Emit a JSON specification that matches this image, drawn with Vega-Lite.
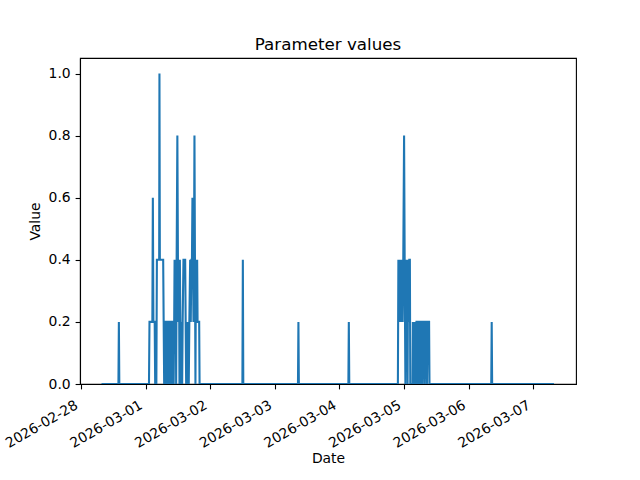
{
  "$schema": "https://vega.github.io/schema/vega-lite/v6.json",
  "width": 496,
  "height": 326,
  "autosize": {"type": "none"},
  "padding": {"left": 80, "top": 58, "right": 64, "bottom": 96},
  "background": "white",
  "title": {"text": "Parameter values", "font": "DejaVu Sans", "fontSize": 16.7, "fontWeight": "normal", "color": "black", "anchor": "middle", "baseline": "alphabetic", "offset": -9},
  "config": {
    "font": "DejaVu Sans",
    "view": {"stroke": "black", "strokeWidth": 1.1},
    "axis": {
      "grid": false,
      "domainColor": "black", "domainWidth": 1.1,
      "tickColor": "black", "tickWidth": 1.1, "tickSize": 4.9,
      "labelFont": "DejaVu Sans", "labelFontSize": 13.9, "labelColor": "black", "labelPadding": 4.9,
      "titleFont": "DejaVu Sans", "titleFontSize": 13.9, "titleFontWeight": "normal", "titleColor": "black",
      "labelFlush": false, "labelOverlap": false, "labelBound": false
    }
  },
  "data": {"values": [
    {"t": "2026-02-28T07:39", "v": 0},
    {"t": "2026-02-28T13:56", "v": 0},
    {"t": "2026-02-28T14:06", "v": 0.2},
    {"t": "2026-02-28T14:16", "v": 0},
    {"t": "2026-03-01T01:17", "v": 0},
    {"t": "2026-03-01T01:28", "v": 0.2},
    {"t": "2026-03-01T02:32", "v": 0.2},
    {"t": "2026-03-01T02:43", "v": 0.6},
    {"t": "2026-03-01T02:55", "v": 0.2},
    {"t": "2026-03-01T03:24", "v": 0.2},
    {"t": "2026-03-01T03:35", "v": 0},
    {"t": "2026-03-01T04:01", "v": 0},
    {"t": "2026-03-01T04:13", "v": 0.4},
    {"t": "2026-03-01T05:04", "v": 0.4},
    {"t": "2026-03-01T05:10", "v": 1.0},
    {"t": "2026-03-01T05:19", "v": 0.4},
    {"t": "2026-03-01T06:33", "v": 0.4},
    {"t": "2026-03-01T06:44", "v": 0.2},
    {"t": "2026-03-01T06:55", "v": 0},
    {"t": "2026-03-01T07:06", "v": 0.2},
    {"t": "2026-03-01T07:28", "v": 0.2},
    {"t": "2026-03-01T07:40", "v": 0},
    {"t": "2026-03-01T07:51", "v": 0.2},
    {"t": "2026-03-01T08:13", "v": 0.2},
    {"t": "2026-03-01T08:24", "v": 0},
    {"t": "2026-03-01T08:35", "v": 0.2},
    {"t": "2026-03-01T08:58", "v": 0.2},
    {"t": "2026-03-01T09:09", "v": 0},
    {"t": "2026-03-01T09:20", "v": 0.2},
    {"t": "2026-03-01T09:35", "v": 0.2},
    {"t": "2026-03-01T09:47", "v": 0},
    {"t": "2026-03-01T09:58", "v": 0.2},
    {"t": "2026-03-01T10:15", "v": 0.2},
    {"t": "2026-03-01T10:27", "v": 0},
    {"t": "2026-03-01T10:38", "v": 0.2},
    {"t": "2026-03-01T10:47", "v": 0.4},
    {"t": "2026-03-01T11:00", "v": 0.2},
    {"t": "2026-03-01T11:11", "v": 0.4},
    {"t": "2026-03-01T11:22", "v": 0},
    {"t": "2026-03-01T11:33", "v": 0.4},
    {"t": "2026-03-01T11:49", "v": 0.8},
    {"t": "2026-03-01T12:02", "v": 0.4},
    {"t": "2026-03-01T12:14", "v": 0.2},
    {"t": "2026-03-01T12:25", "v": 0.4},
    {"t": "2026-03-01T12:36", "v": 0},
    {"t": "2026-03-01T12:45", "v": 0.4},
    {"t": "2026-03-01T12:56", "v": 0.2},
    {"t": "2026-03-01T13:09", "v": 0},
    {"t": "2026-03-01T13:20", "v": 0.2},
    {"t": "2026-03-01T13:36", "v": 0},
    {"t": "2026-03-01T13:47", "v": 0.2},
    {"t": "2026-03-01T14:05", "v": 0.4},
    {"t": "2026-03-01T14:43", "v": 0.4},
    {"t": "2026-03-01T14:54", "v": 0.2},
    {"t": "2026-03-01T15:05", "v": 0},
    {"t": "2026-03-01T15:16", "v": 0.2},
    {"t": "2026-03-01T15:34", "v": 0},
    {"t": "2026-03-01T15:46", "v": 0.2},
    {"t": "2026-03-01T16:03", "v": 0},
    {"t": "2026-03-01T16:16", "v": 0.2},
    {"t": "2026-03-01T16:34", "v": 0.4},
    {"t": "2026-03-01T16:48", "v": 0.2},
    {"t": "2026-03-01T17:01", "v": 0.4},
    {"t": "2026-03-01T17:14", "v": 0.4},
    {"t": "2026-03-01T17:25", "v": 0.6},
    {"t": "2026-03-01T17:36", "v": 0.4},
    {"t": "2026-03-01T17:48", "v": 0.2},
    {"t": "2026-03-01T17:59", "v": 0.4},
    {"t": "2026-03-01T18:10", "v": 0.8},
    {"t": "2026-03-01T18:21", "v": 0.4},
    {"t": "2026-03-01T18:32", "v": 0},
    {"t": "2026-03-01T18:43", "v": 0.4},
    {"t": "2026-03-01T18:57", "v": 0.2},
    {"t": "2026-03-01T19:10", "v": 0.4},
    {"t": "2026-03-01T19:19", "v": 0.2},
    {"t": "2026-03-01T19:55", "v": 0.2},
    {"t": "2026-03-01T20:04", "v": 0},
    {"t": "2026-03-02T11:58", "v": 0},
    {"t": "2026-03-02T12:08", "v": 0.4},
    {"t": "2026-03-02T12:18", "v": 0},
    {"t": "2026-03-03T08:36", "v": 0},
    {"t": "2026-03-03T08:46", "v": 0.2},
    {"t": "2026-03-03T08:56", "v": 0},
    {"t": "2026-03-04T03:19", "v": 0},
    {"t": "2026-03-04T03:29", "v": 0.2},
    {"t": "2026-03-04T03:39", "v": 0},
    {"t": "2026-03-04T21:42", "v": 0},
    {"t": "2026-03-04T21:53", "v": 0.4},
    {"t": "2026-03-04T22:09", "v": 0.2},
    {"t": "2026-03-04T22:22", "v": 0.4},
    {"t": "2026-03-04T22:35", "v": 0.2},
    {"t": "2026-03-04T22:49", "v": 0.4},
    {"t": "2026-03-04T23:02", "v": 0.2},
    {"t": "2026-03-04T23:15", "v": 0.4},
    {"t": "2026-03-04T23:29", "v": 0.2},
    {"t": "2026-03-04T23:42", "v": 0.4},
    {"t": "2026-03-05T00:00", "v": 0.8},
    {"t": "2026-03-05T00:13", "v": 0.4},
    {"t": "2026-03-05T00:29", "v": 0},
    {"t": "2026-03-05T00:40", "v": 0.4},
    {"t": "2026-03-05T00:53", "v": 0.2},
    {"t": "2026-03-05T01:07", "v": 0.4},
    {"t": "2026-03-05T01:18", "v": 0},
    {"t": "2026-03-05T01:29", "v": 0.4},
    {"t": "2026-03-05T01:42", "v": 0.2},
    {"t": "2026-03-05T01:56", "v": 0.4},
    {"t": "2026-03-05T02:09", "v": 0.4},
    {"t": "2026-03-05T02:18", "v": 0},
    {"t": "2026-03-05T03:09", "v": 0},
    {"t": "2026-03-05T03:16", "v": 0.2},
    {"t": "2026-03-05T03:32", "v": 0},
    {"t": "2026-03-05T03:43", "v": 0.2},
    {"t": "2026-03-05T03:56", "v": 0},
    {"t": "2026-03-05T04:10", "v": 0.2},
    {"t": "2026-03-05T04:23", "v": 0},
    {"t": "2026-03-05T04:36", "v": 0.2},
    {"t": "2026-03-05T04:58", "v": 0.2},
    {"t": "2026-03-05T05:07", "v": 0},
    {"t": "2026-03-05T05:30", "v": 0},
    {"t": "2026-03-05T05:36", "v": 0.2},
    {"t": "2026-03-05T06:01", "v": 0.2},
    {"t": "2026-03-05T06:10", "v": 0},
    {"t": "2026-03-05T06:19", "v": 0.2},
    {"t": "2026-03-05T06:41", "v": 0.2},
    {"t": "2026-03-05T06:54", "v": 0},
    {"t": "2026-03-05T07:08", "v": 0.2},
    {"t": "2026-03-05T07:30", "v": 0.2},
    {"t": "2026-03-05T07:43", "v": 0},
    {"t": "2026-03-05T07:57", "v": 0.2},
    {"t": "2026-03-05T08:19", "v": 0.2},
    {"t": "2026-03-05T08:32", "v": 0},
    {"t": "2026-03-05T08:46", "v": 0.2},
    {"t": "2026-03-05T09:17", "v": 0.2},
    {"t": "2026-03-05T09:26", "v": 0},
    {"t": "2026-03-06T08:22", "v": 0},
    {"t": "2026-03-06T08:32", "v": 0.2},
    {"t": "2026-03-06T08:42", "v": 0},
    {"t": "2026-03-07T07:39", "v": 0}
  ]},
  "mark": {"type": "line", "color": "#1f77b4", "strokeWidth": 2.08, "clip": true},
  "encoding": {
    "x": {
      "field": "t", "type": "temporal", "title": "Date",
      "scale": {"domain": [{"year": 2026, "month": 2, "date": 27, "hours": 23, "minutes": 40}, {"year": 2026, "month": 3, "date": 7, "hours": 15, "minutes": 50}], "nice": false},
      "axis": {
        "values": [
          {"year": 2026, "month": 2, "date": 28},
          {"year": 2026, "month": 3, "date": 1},
          {"year": 2026, "month": 3, "date": 2},
          {"year": 2026, "month": 3, "date": 3},
          {"year": 2026, "month": 3, "date": 4},
          {"year": 2026, "month": 3, "date": 5},
          {"year": 2026, "month": 3, "date": 6},
          {"year": 2026, "month": 3, "date": 7}
        ],
        "format": "%Y-%m-%d",
        "labelAngle": -30, "labelAlign": "right", "labelBaseline": "top", "labelOffset": -8, "labelPadding": 9,
        "titleY": 78, "titleBaseline": "alphabetic"
      }
    },
    "y": {
      "field": "v", "type": "quantitative", "title": "Value",
      "scale": {"domain": [0, 1.05], "nice": false},
      "axis": {"values": [0, 0.2, 0.4, 0.6, 0.8, 1.0], "format": ".1f", "titlePadding": 5.6}
    }
  }
}
